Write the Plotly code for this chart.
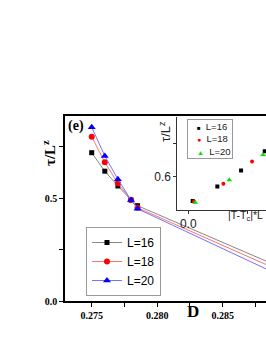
import plotly.graph_objects as go

# ---- main panel data ----
D = [0.275, 0.276, 0.277, 0.278, 0.2785, 0.290]
tau_L16 = [0.722, 0.632, 0.560, 0.492, 0.464, 0.148]
tau_L18 = [0.800, 0.675, 0.573, 0.492, 0.454, 0.130]
tau_L20 = [0.846, 0.706, 0.593, 0.492, 0.449, 0.106]

# ---- inset (scaling collapse) data ----
sx_L16 = [0.037, 0.246, 0.447, 0.647]
sy_L16 = [0.527, 0.571, 0.619, 0.676]
sx_L18 = [0.048, 0.297, 0.540]
sy_L18 = [0.526, 0.579, 0.646]
sx_L20 = [0.059, 0.347, 0.633]
sy_L20 = [0.523, 0.590, 0.666]

labels = ["L=16", "L=18", "L=20"]

SERIF = "Liberation Serif"
SANS = "Liberation Sans"

fig = go.Figure()

main_styles = [
    (tau_L16, "#888888", "black", "square", 5),
    (tau_L18, "#ff7373", "red", "circle", 6),
    (tau_L20, "#7373ff", "blue", "triangle-up", 7),
]
for lab, (ys, lc, mc, sym, ms) in zip(labels, main_styles):
    fig.add_trace(go.Scatter(
        x=D, y=ys, name=lab, mode="lines+markers",
        line=dict(color=lc, width=1),
        marker=dict(color=mc, symbol=sym, size=ms, line=dict(width=0)),
        xaxis="x", yaxis="y", legend="legend",
    ))

inset_styles = [
    (sx_L16, sy_L16, "black", "square", 4),
    (sx_L18, sy_L18, "red", "circle", 4),
    (sx_L20, sy_L20, "#00e000", "triangle-up", 5),
]
for lab, (xs, ys, mc, sym, ms) in zip(labels, inset_styles):
    fig.add_trace(go.Scatter(
        x=xs, y=ys, name=lab, mode="markers",
        marker=dict(color=mc, symbol=sym, size=ms, line=dict(width=0)),
        xaxis="x2", yaxis="y2", showlegend=False,
    ))

W, H = 266, 344
L, R, T, B = 65, 0, 116, 43
pw, ph = W - L - R, H - T - B


def px(xp):
    return (xp - L) / pw


def py(yp):
    return (H - B - yp) / ph


fig.update_layout(
    width=W, height=H,
    margin=dict(l=L, r=R, t=T, b=B, pad=0),
    paper_bgcolor="white", plot_bgcolor="white",
    showlegend=True,
    xaxis=dict(
        domain=[0, 1], range=[0.27296, 0.28831], automargin=False,
        tick0=0.275, dtick=0.005, tickformat=".3f",
        ticks="outside", ticklen=4, tickwidth=1, tickcolor="black",
        minor=dict(dtick=0.0025, tick0=0.275, ticks="outside", ticklen=4,
                   tickwidth=1, tickcolor="black", showgrid=False),
        showline=True, linecolor="black", linewidth=1.5, mirror=True,
        showgrid=False, zeroline=False,
        tickfont=dict(family=SERIF, size=10, color="black", weight="bold"),
    ),
    yaxis=dict(
        domain=[0, 1], range=[0, 0.9007], automargin=False,
        tick0=0, dtick=0.5, tickformat=".1f",
        ticks="outside", ticklen=4, tickwidth=1, tickcolor="black",
        minor=dict(dtick=0.25, tick0=0, ticks="outside", ticklen=4,
                   tickwidth=1, tickcolor="black", showgrid=False),
        showline=True, linecolor="black", linewidth=1.5, mirror=False,
        showgrid=False, zeroline=False,
        tickfont=dict(family=SERIF, size=10, color="black", weight="bold"),
    ),
    xaxis2=dict(
        domain=[px(177.3), 1], range=[-0.0932, 0.658], anchor="y2",
        automargin=False,
        tick0=0, dtick=1, tickformat=".1f",
        ticks="outside", ticklen=3, tickwidth=1, tickcolor="#333",
        minor=dict(dtick=0.5, tick0=0, ticks="outside", ticklen=3,
                   tickwidth=1, tickcolor="#333", showgrid=False),
        showline=True, linecolor="#333", linewidth=1, mirror=False,
        showgrid=False, zeroline=False,
        tickfont=dict(family=SANS, size=12, color="#222"),
    ),
    yaxis2=dict(
        domain=[py(210), py(117)], range=[0.5003, 0.779], anchor="x2",
        automargin=False,
        tick0=0, dtick=0.2, tickformat=".1f",
        ticks="outside", ticklen=3, tickwidth=1, tickcolor="#333",
        minor=dict(dtick=0.1, tick0=0, ticks="outside", ticklen=3,
                   tickwidth=1, tickcolor="#333", showgrid=False),
        showline=True, linecolor="#333", linewidth=1, mirror=False,
        showgrid=False, zeroline=False,
        tickfont=dict(family=SANS, size=12, color="#222"),
    ),
    legend=dict(
        x=px(86), y=py(227), xanchor="left", yanchor="top",
        bgcolor="white", bordercolor="#999999", borderwidth=1,
        font=dict(family=SANS, size=12, color="black"),
        tracegroupgap=0, itemwidth=30,
    ),
)

nb = "\u00a0"
inset_legend = "<br>".join([
    nb * 3 + '<span style="color:black;font-size:6px">■</span>' + nb * 2 + "L=16",
    nb * 3 + '<span style="color:red;font-size:7px">●</span>' + nb * 2 + "L=18",
    nb * 3 + '<span style="color:#00e000;font-size:7px">▲</span>' + nb * 2 + "L=20",
])

annotations = [
    dict(text="(e)", x=px(76), y=py(126), xref="paper", yref="paper",
         xanchor="center", yanchor="middle", showarrow=False,
         font=dict(family=SERIF, size=14, color="black", weight="bold")),
    dict(text="D", x=px(192.7), y=py(311.5), xref="paper", yref="paper",
         xanchor="center", yanchor="middle", showarrow=False,
         font=dict(family=SERIF, size=17, color="black", weight="bold")),
    dict(text="τ/L<sup>z</sup>", x=px(49), y=py(153), xref="paper", yref="paper",
         xanchor="center", yanchor="middle", textangle=-90, showarrow=False,
         font=dict(family=SERIF, size=15, color="black", weight="bold")),
    dict(text="τ/L<sup>z</sup>", x=px(165), y=py(132), xref="paper", yref="paper",
         xanchor="center", yanchor="middle", textangle=-90, showarrow=False,
         font=dict(family=SANS, size=13, color="#222")),
    dict(text="|T-T<sub>c</sub>|*L", x=px(226), y=py(215.7), xref="paper", yref="paper",
         xanchor="left", yanchor="middle", showarrow=False,
         font=dict(family=SANS, size=10.5, color="#222")),
    dict(text=inset_legend, x=px(186.7), y=py(119), xref="paper", yref="paper",
         xanchor="left", yanchor="top", align="left", showarrow=False,
         bgcolor="white", bordercolor="#999999", borderwidth=1, borderpad=1,
         font=dict(family=SANS, size=9.5, color="#222")),
]
fig.update_layout(annotations=annotations)

fig.write_html(
    "out.html",
    config={"displayModeBar": False},
    post_script="document.body.style.margin='0px';document.body.style.padding='0px';",
)
